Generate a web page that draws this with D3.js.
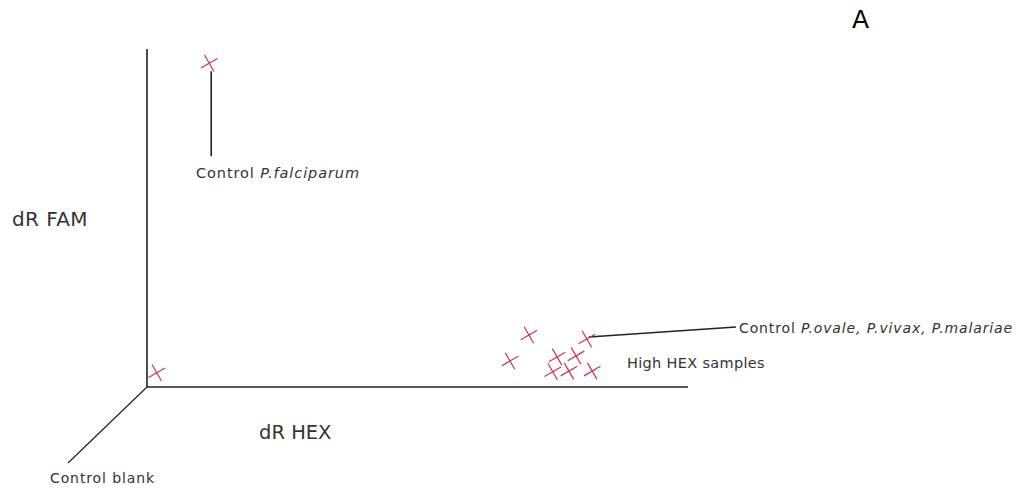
<!DOCTYPE html>
<html><head><meta charset="utf-8">
<script src="https://cdn.jsdelivr.net/npm/d3@7"></script>
<style>body{margin:0;background:#fff;} text{font-family:"DejaVu Sans",sans-serif;fill:#333;}</style>
</head><body><svg id="c" width="1019" height="489"></svg>
<script>
// data (arbitrary units on dR HEX / dR FAM axes, 0-100)
const hexValues = [11.5, 1.8, 70.6, 81.3, 67.1, 75.8, 79.3, 75.0, 78.0, 82.3];
const famValues = [95.8, 4.2, 15.4, 14.2, 7.7, 8.9, 9.2, 4.5, 4.7, 4.7];
const sampleNames = ["Control P.falciparum", "Control blank", "High HEX", "Control P.ovale, P.vivax, P.malariae", "High HEX", "High HEX", "High HEX", "High HEX", "High HEX", "High HEX"];
const axisLabels = ["dR HEX", "dR FAM"];
const panelLabel = "A";

const svg = d3.select("#c");
const x = d3.scaleLinear().domain([0, 100]).range([147, 688]);
const y = d3.scaleLinear().domain([0, 100]).range([387, 49]);

const axisColor = "#222";
// axes (no ticks)
svg.append("line").attr("x1", x(0)).attr("x2", x(0)).attr("y1", y(100)).attr("y2", y(0)).attr("stroke", axisColor).attr("stroke-width", 1.6);
svg.append("line").attr("x1", x(0)).attr("x2", x(100)).attr("y1", y(0)).attr("y2", y(0)).attr("stroke", axisColor).attr("stroke-width", 1.6);
// third (depth) axis toward blank label
svg.append("line").attr("x1", x(0)).attr("y1", y(0)).attr("x2", x(0) - 79).attr("y2", y(0) + 76).attr("stroke", axisColor).attr("stroke-width", 1.2);

// leader lines
const pf = {h: hexValues[0], f: famValues[0]};
svg.append("line").attr("x1", x(pf.h) + 2).attr("x2", x(pf.h) + 2).attr("y1", y(pf.f) + 8).attr("y2", y(pf.f) + 93).attr("stroke", axisColor).attr("stroke-width", 1.6);
const po = {h: hexValues[3], f: famValues[3]};
svg.append("line").attr("x1", x(po.h) + 2).attr("y1", y(po.f) - 2).attr("x2", 736).attr("y2", 327).attr("stroke", axisColor).attr("stroke-width", 1.6);

// markers
const sym = d3.symbol().type(d3.symbolX).size(120);
svg.append("g").selectAll("path").data(hexValues.map((h, i) => ({h, f: famValues[i], n: sampleNames[i]})))
  .join("path")
  .attr("d", sym)
  .attr("transform", d => `translate(${x(d.h)},${y(d.f)}) rotate(15)`)
  .attr("fill", "none").attr("stroke", "#c83355").attr("stroke-width", 1.2);

// texts: widen with letter-spacing to reach the target width
function label(t, px, py, size, target, parts) {
  const el = svg.append("text").attr("x", px).attr("y", py).style("font-size", size + "px");
  const ps = parts || [[t, false]];
  ps.forEach(([s, it]) => el.append("tspan").text(s).style("font-style", it ? "italic" : "normal"));
  if (target) {
    const w = el.node().getComputedTextLength();
    const n = ps.map(p => p[0]).join("").length;
    const ls = (target - w) / n;
    if (ls > 0) el.style("letter-spacing", ls + "px");
  }
  return el;
}
label(null, 196, 178, 14.5, 164, [["Control ", false], ["P.falciparum", true]]);
label(null, 739, 333, 14, 274, [["Control ", false], ["P.ovale, P.vivax, P.malariae", true]]);
label("High HEX samples", 627, 368, 14.5, 138);
label("Control blank", 50, 483, 14, 105);
label(axisLabels[1], 12, 226, 20, 76);
label(axisLabels[0], 259, 439, 19.5, 71);
label(panelLabel, 852, 28, 25).style("fill", "#000");
</script></body></html>
